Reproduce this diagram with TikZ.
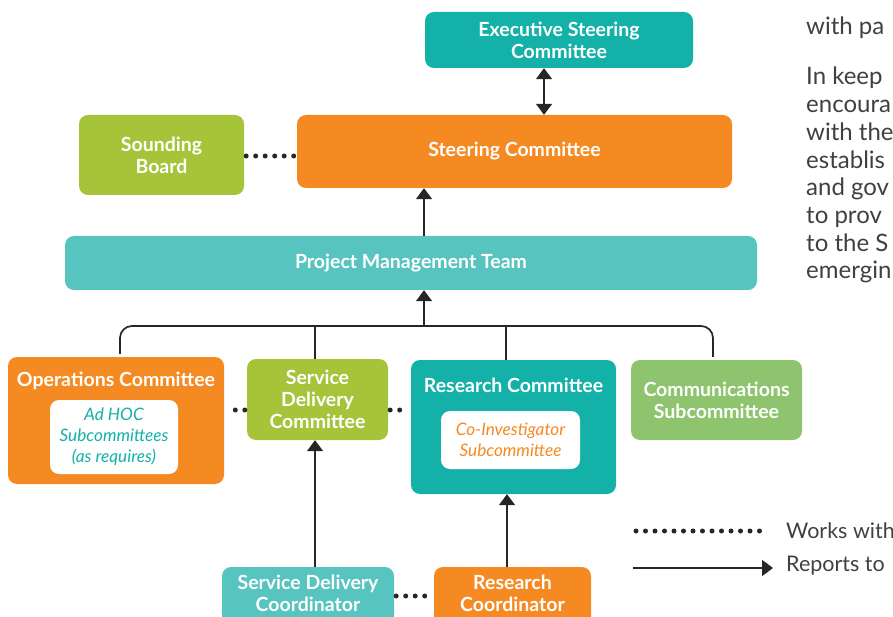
\documentclass[tikz,border=0pt]{standalone}
\usepackage{fontspec}
\setmainfont{Lato}
\usetikzlibrary{arrows.meta}
\definecolor{corange}{HTML}{F58A22}
\definecolor{cteal}{HTML}{13B1A8}
\definecolor{caqua}{HTML}{58C4C0}
\definecolor{clime}{HTML}{A6C43A}
\definecolor{cgreen}{HTML}{8EC46D}
\definecolor{cgray}{HTML}{404041}
\tikzset{
    box/.style={rounded corners=9pt,inner sep=0pt,text=white,align=center,
        font=\bfseries\fontsize{19.5}{22}\selectfont},
    title/.style={text=white,inner sep=0pt,align=center,
        font=\bfseries\fontsize{19.5}{22}\selectfont},
    sub/.style={fill=white,rounded corners=9pt,inner sep=0pt,align=center,
        font=\itshape\fontsize{17.2}{21}\selectfont},
    body/.style={text=cgray,anchor=base west,inner sep=0pt,
        font=\fontsize{24}{28}\selectfont},
    legend/.style={text=cgray,anchor=west,inner sep=0pt,
        font=\fontsize{21.5}{25}\selectfont},
    link/.style={draw=black!85,line width=1.7pt},
    rep/.style={link,-{Triangle[width=16pt,length=11pt]}},
    both/.style={link,{Triangle[width=16pt,length=11pt]}-{Triangle[width=16pt,length=11pt]}},
    works/.style={draw=black!85,line width=5pt,line cap=round,
        dash pattern=on 0pt off 9.5pt,shorten <=2pt,shorten >=2pt},
}
\begin{document}
\begin{tikzpicture}[x=1pt,y=-1pt]
\useasboundingbox (0,0) rectangle (893,617);
% boxes
\node[box,fill=cteal,minimum width=268pt,minimum height=56pt] (exec) at (559,40) {Executive Steering\\Committee};
\node[box,fill=clime,minimum width=165pt,minimum height=80pt] (sound) at (161.5,155) {Sounding\\Board};
\node[box,fill=corange,minimum width=435pt,minimum height=73pt] (steer) at (514.5,151.5) {Steering Committee};
\node[box,fill=caqua,minimum width=692pt,minimum height=54pt] (pmt) at (411,263) {Project Management Team};
\node[box,fill=corange,minimum width=216pt,minimum height=127pt] (ops) at (116,420.5) {};
\node[title] (opst) at (116,381) {Operations Committee};
\node[sub,text=cteal,minimum width=128pt,minimum height=74pt] (adhoc) at (114,437) {Ad HOC\\Subcommittees\\(as requires)};
\node[box,fill=clime,minimum width=141pt,minimum height=81pt] (sdc) at (317.5,399.5) {Service\\Delivery\\Committee};
\node[box,fill=cteal,minimum width=205pt,minimum height=134pt] (resc) at (513.5,427) {};
\node[title] (resct) at (513.5,385) {Research Committee};
\node[sub,text=corange,minimum width=139pt,minimum height=58pt] (coinv) at (510.5,440) {Co-Investigator\\Subcommittee};
\node[box,fill=cgreen,minimum width=171pt,minimum height=80pt] (comm) at (716.5,400) {Communications\\Subcommittee};
\node[box,fill=caqua,minimum width=172pt,minimum height=70pt] (sdco) at (308,602) {};
\node[title] (sdcot) at (308,593) {Service Delivery\\Coordinator};
\node[box,fill=corange,minimum width=157pt,minimum height=70pt] (rco) at (512.5,602) {};
\node[title] (rcot) at (512.5,593) {Research\\Coordinator};
% connectors
\coordinate (bus) at (424,326);
\coordinate (ex) at (544,0);
\draw[both] (ex |- exec.south) -- (ex |- steer.north);
\draw[rep] (bus |- pmt.north) -- (bus |- steer.south);
\draw[rep] (bus) -- (bus |- pmt.south);
\draw[link,rounded corners=12pt,shorten <=3pt,shorten >=3pt]
    ([xshift=4pt]ops.north) |- (bus) -| ([xshift=-3.5pt]comm.north);
\draw[link] ([xshift=-2.5pt]sdc.north) -- ([xshift=-2.5pt]sdc.north |- bus);
\draw[link] ([xshift=-7.5pt]resc.north) -- ([xshift=-7.5pt]resc.north |- bus);
\draw[rep] ([xshift=7pt]sdco.north) -- ([xshift=7pt]sdco.north |- sdc.south);
\draw[rep] ([xshift=-5.5pt]rco.north) -- ([xshift=-5.5pt]rco.north |- resc.south);
\draw[works] ([yshift=-1pt]sound.east) -- ([yshift=-1pt]sound.east -| steer.west);
\draw[works] ([yshift=-10.5pt]sdc.west) -- ([yshift=-10.5pt]sdc.west -| ops.east);
\draw[works] ([yshift=-10.5pt]sdc.east) -- ([yshift=-10.5pt]sdc.east -| resc.west);
\draw[works] ([yshift=6pt]sdco.east) -- ([yshift=6pt]sdco.east -| rco.west);
% legend
\coordinate (wa) at (636,531);
\coordinate (wb) at (768,531);
\coordinate (ra) at (633,568);
\coordinate (rb) at (773,568);
\draw[works,shorten <=0pt,shorten >=0pt] (wa) -- (wb);
\draw[rep] (ra) -- (rb);
\node[legend] (workst) at (786,531) {Works with};
\node[legend] (repst) at (786,566) {Reports to};
% page text
\node[body] (txt0) at (806,35) {with pa};
\foreach \t [count=\i] in {In keep,encoura,with the,establis,and gov,to prov,to the S,emergin}
    \node[body] (txt\i) at (806,{57.3+27.7*\i}) {\t};
\end{tikzpicture}
\end{document}
